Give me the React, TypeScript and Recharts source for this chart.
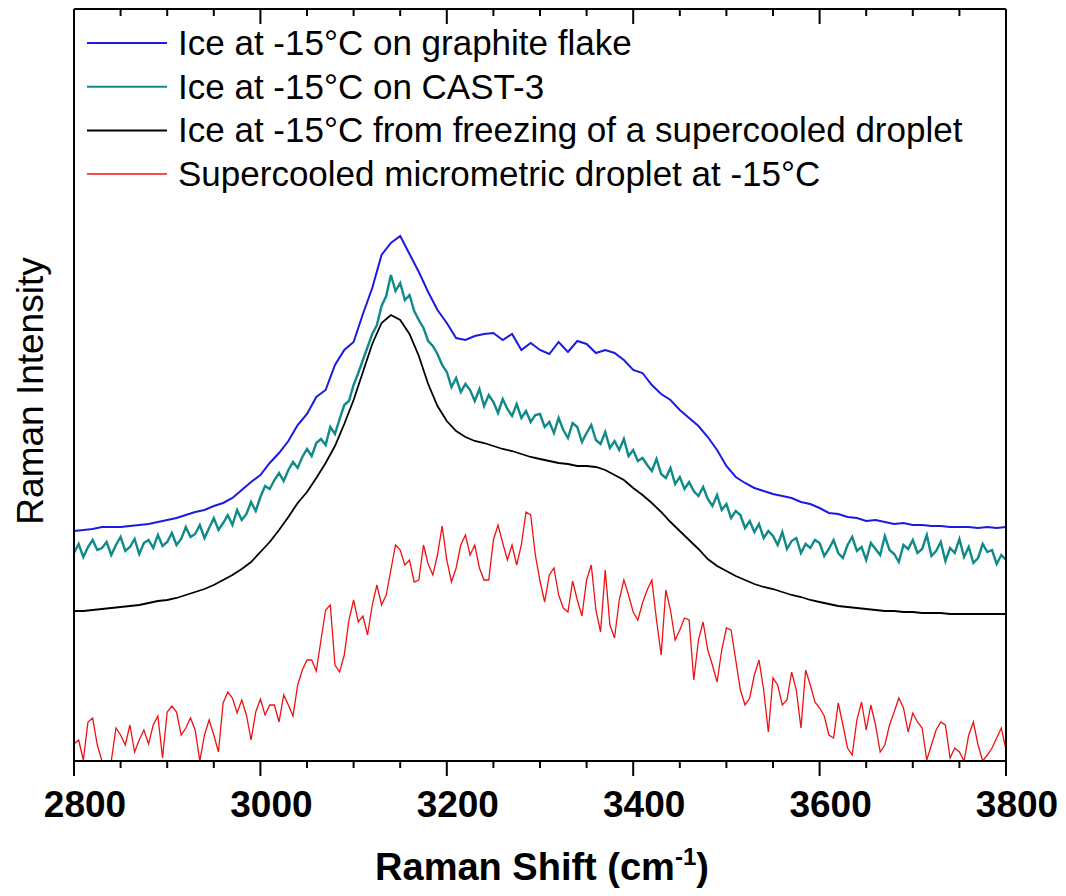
import React from 'react';
import { LineChart, Line, XAxis, YAxis, Legend } from 'recharts';

// Raman shift grids: the smooth spectra are kept every 10 cm-1,
// the noisy ones every 5 cm-1, both from 2800 to 3800
const SHIFT_START = 2800;
const SHIFT_END = 3800;
const COARSE_STEP = 10;
const FINE_STEP = 5;
const Y_MAX = 752;

// intensities in arbitrary units
const graphiteIce = [
  230, 231, 232, 234, 234, 234, 235, 236, 237, 239,
  241, 243, 246, 249, 251, 255, 258, 263, 271, 279,
  286, 298, 308, 320, 336, 347, 364, 371, 396, 411,
  419, 447, 473, 506, 518, 525, 507, 489, 469, 451,
  438, 423, 421, 425, 427, 428, 421, 427, 411, 418,
  411, 407, 419, 409, 420, 417, 408, 411, 408, 401,
  391, 388, 376, 367, 361, 351, 343, 335, 324, 311,
  295, 284, 278, 273, 270, 267, 265, 263, 259, 257,
  253, 248, 247, 244, 243, 240, 241, 239, 237, 238,
  236, 236, 235, 235, 234, 234, 234, 233, 234, 233,
  234,
];

const frozenDropletIce = [
  150, 150, 151, 152, 153, 154, 155, 156, 158, 160,
  161, 163, 166, 169, 172, 176, 181, 186, 192, 199,
  209, 219, 231, 244, 258, 269, 283, 298, 315, 337,
  361, 389, 417, 438, 446, 441, 427, 405, 377, 355,
  340, 330, 324, 320, 318, 315, 312, 310, 307, 304,
  302, 300, 298, 297, 295, 295, 294, 291, 286, 281,
  273, 266, 258, 249, 239, 230, 221, 212, 202, 195,
  190, 185, 181, 177, 174, 172, 169, 166, 164, 161,
  159, 157, 155, 154, 153, 152, 151, 150, 150, 149,
  149, 148, 148, 148, 147, 147, 147, 147, 147, 147,
  147,
];

const castIce = [
  208, 217, 204, 214, 221, 211, 213, 219, 206, 216,
  224, 210, 214, 222, 207, 218, 221, 213, 226, 215,
  219, 228, 216, 222, 234, 224, 227, 236, 223, 233,
  243, 231, 238, 246, 236, 251, 241, 247, 259, 250,
  264, 275, 272, 281, 288, 280, 291, 299, 293, 304,
  312, 305, 318, 322, 316, 334, 327, 342, 356, 360,
  376, 388, 401, 414, 427, 436, 455, 465, 486, 470,
  478, 461, 466, 450, 441, 433, 420, 415, 407, 396,
  389, 374, 383, 369, 377, 371, 360, 372, 355, 366,
  359, 348, 362, 352, 345, 357, 343, 350, 339, 346,
  347, 334, 339, 328, 343, 331, 323, 338, 334, 319,
  328, 336, 321, 317, 329, 313, 320, 311, 322, 305,
  311, 300, 303, 296, 290, 302, 287, 283, 293, 277,
  284, 272, 279, 270, 265, 274, 262, 255, 266, 251,
  257, 243, 250, 246, 233, 240, 229, 237, 223, 230,
  225, 216, 229, 212, 220, 223, 208, 217, 213, 221,
  218, 205, 212, 221, 208, 203, 216, 224, 210, 214,
  201, 218, 212, 206, 225, 211, 207, 199, 216, 212,
  221, 208, 212, 226, 205, 210, 219, 200, 213, 208,
  222, 204, 214, 198, 203, 217, 209, 211, 197, 206,
  201,
];

const supercooledDroplet = [
  17, 21, 1, 39, 43, 16, 0, 0, 0, 33,
  26, 16, 36, 9, 21, 31, 17, 36, 45, 3,
  49, 55, 49, 26, 33, 43, 31, 0, 26, 41,
  26, 9, 58, 69, 63, 48, 61, 46, 21, 49,
  62, 46, 56, 56, 39, 66, 56, 45, 76, 91,
  101, 101, 90, 121, 151, 156, 96, 89, 106, 141,
  161, 139, 145, 126, 156, 176, 156, 166, 191, 216,
  211, 196, 201, 179, 181, 216, 197, 186, 206, 235,
  201, 179, 193, 216, 226, 206, 216, 193, 181, 181,
  221, 236, 218, 201, 216, 196, 216, 249, 246, 206,
  180, 159, 186, 193, 166, 153, 149, 180, 161, 145,
  181, 196, 151, 129, 191, 136, 123, 161, 181, 166,
  149, 141, 158, 171, 181, 141, 106, 171, 151, 121,
  131, 143, 141, 81, 121, 139, 111, 96, 79, 111,
  133, 131, 101, 71, 56, 63, 86, 101, 71, 29,
  83, 76, 56, 61, 89, 71, 33, 91, 76, 59,
  53, 45, 26, 23, 58, 36, 13, 6, 41, 59,
  31, 56, 36, 9, 16, 36, 49, 63, 53, 29,
  48, 39, 33, 1, 16, 31, 39, 36, 3, 13,
  9, 0, 26, 39, 16, 0, 6, 13, 23, 33,
  11,
];

const seriesNames = [
  'Ice at -15°C on graphite flake',
  'Ice at -15°C on CAST-3',
  'Ice at -15°C from freezing of a supercooled droplet',
  'Supercooled micrometric droplet at -15°C',
];

const xTicks = [
  2800, 2850, 2900, 2950, 3000, 3050, 3100, 3150, 3200, 3250, 3300,
  3350, 3400, 3450, 3500, 3550, 3600, 3650, 3700, 3750, 3800,
];
const xTickLabels = [2800, 3000, 3200, 3400, 3600, 3800];

const toPoints = (values: number[], step: number) =>
  values.map((v, i) => ({ shift: SHIFT_START + i * step, intensity: v }));

const graphitePts = toPoints(graphiteIce, COARSE_STEP);
const castPts = toPoints(castIce, FINE_STEP);
const frozenPts = toPoints(frozenDropletIce, COARSE_STEP);
const dropletPts = toPoints(supercooledDroplet, FINE_STEP);

const FONT = 'Arial, "Liberation Sans", Helvetica, sans-serif';
const PLOT_TOP = 1; // margin.top + height of the top axis
const LEGEND_TOP = 20; // legend box starts below the top ticks

const tickLen = (v: number) => (xTickLabels.includes(v) ? 15 : 7);

const BottomTick = (props: any) => {
  const { x, y, payload } = props;
  return (
    <g>
      <line x1={x} x2={x} y1={y} y2={y + tickLen(payload.value)} stroke="#000" strokeWidth={2} />
      {xTickLabels.includes(payload.value) && (
        <text x={x + 11} y={y + 56} textAnchor="middle" fontSize={37} fontWeight="bold" fontFamily={FONT} fill="#000">
          {payload.value}
        </text>
      )}
    </g>
  );
};

// axis title, plus the inward tick marks mirrored along the top frame
const XTitle = (props: any) => {
  const { viewBox } = props;
  const toX = (v: number) => viewBox.x + ((v - SHIFT_START) / (SHIFT_END - SHIFT_START)) * viewBox.width;
  return (
    <g>
      {xTicks.map((t) => (
        <line key={t} x1={toX(t)} x2={toX(t)} y1={PLOT_TOP} y2={PLOT_TOP + tickLen(t)} stroke="#000" strokeWidth={2} />
      ))}
      <text
        x={viewBox.x + viewBox.width / 2 + 2}
        y={viewBox.y + 119}
        textAnchor="middle"
        fontSize={38}
        fontWeight="bold"
        fontFamily={FONT}
        fill="#000"
      >
        <tspan>Raman Shift (cm</tspan>
        <tspan dy={-15} fontSize={24}>-1</tspan>
        <tspan dy={15}>)</tspan>
      </text>
    </g>
  );
};

const YTitle = (props: any) => {
  const { viewBox } = props;
  const cy = viewBox.y + viewBox.height / 2 + 6;
  return (
    <text
      x={35}
      y={cy}
      transform={`rotate(-90, 35, ${cy})`}
      textAnchor="middle"
      fontSize={37}
      fontFamily={FONT}
      fill="#000"
    >
      Raman Intensity
    </text>
  );
};

const LegendBox = (props: any) => {
  const items = [...(props.payload || [])].sort(
    (a: any, b: any) => seriesNames.indexOf(a.value) - seriesNames.indexOf(b.value)
  );
  return (
    <svg width={990} height={170} style={{ display: 'block', overflow: 'visible' }}>
      {items.map((entry: any, i: number) => {
        const y = 35 - LEGEND_TOP + i * 43.7;
        return (
          <g key={entry.value}>
            <line x1={79} x2={159} y1={y} y2={y} stroke={entry.color} strokeWidth={i === 3 ? 1.5 : 2} />
            <text x={170} y={y + 12} fontSize={35} fontFamily={FONT} fill="#000">
              {entry.value}
            </text>
          </g>
        );
      })}
    </svg>
  );
};

export default function App() {
  return (
    <div style={{ width: 1050, height: 880, background: '#fff' }}>
      <LineChart width={1050} height={880} margin={{ top: 0, right: 51, bottom: 0, left: 65 }}>
        <XAxis
          dataKey="shift"
          type="number"
          domain={[SHIFT_START, SHIFT_END]}
          ticks={xTicks}
          interval={0}
          height={127}
          tickSize={0}
          tickMargin={0}
          tickLine={false}
          axisLine={{ stroke: '#000', strokeWidth: 2 }}
          tick={BottomTick}
          label={{ content: XTitle }}
        />
        <XAxis
          xAxisId="top"
          orientation="top"
          type="number"
          domain={[SHIFT_START, SHIFT_END]}
          height={1}
          tick={false}
          tickLine={false}
          axisLine={{ stroke: '#000', strokeWidth: 2 }}
        />
        <YAxis
          dataKey="intensity"
          domain={[0, Y_MAX]}
          allowDataOverflow
          width={1}
          tick={false}
          tickLine={false}
          axisLine={{ stroke: '#000', strokeWidth: 2 }}
          label={{ content: YTitle }}
        />
        <YAxis
          yAxisId="right"
          orientation="right"
          domain={[0, Y_MAX]}
          width={1}
          tick={false}
          tickLine={false}
          axisLine={{ stroke: '#000', strokeWidth: 2 }}
        />
        <Legend
          layout="horizontal"
          verticalAlign="middle"
          align="center"
          content={LegendBox}
          wrapperStyle={{
            position: 'absolute',
            left: 0,
            top: LEGEND_TOP,
            width: 990,
            height: 170,
            margin: 0,
            padding: 0,
            pointerEvents: 'none',
          }}
        />
        <Line data={graphitePts} name={seriesNames[0]} dataKey="intensity" stroke="#1a1ae0" strokeWidth={2} dot={false} isAnimationActive={false} />
        <Line data={castPts} name={seriesNames[1]} dataKey="intensity" stroke="#0f8a88" strokeWidth={2.4} dot={false} isAnimationActive={false} />
        <Line data={frozenPts} name={seriesNames[2]} dataKey="intensity" stroke="#000" strokeWidth={1.8} dot={false} isAnimationActive={false} />
        <Line data={dropletPts} name={seriesNames[3]} dataKey="intensity" stroke="#f01010" strokeWidth={1.3} dot={false} isAnimationActive={false} />
      </LineChart>
    </div>
  );
}
